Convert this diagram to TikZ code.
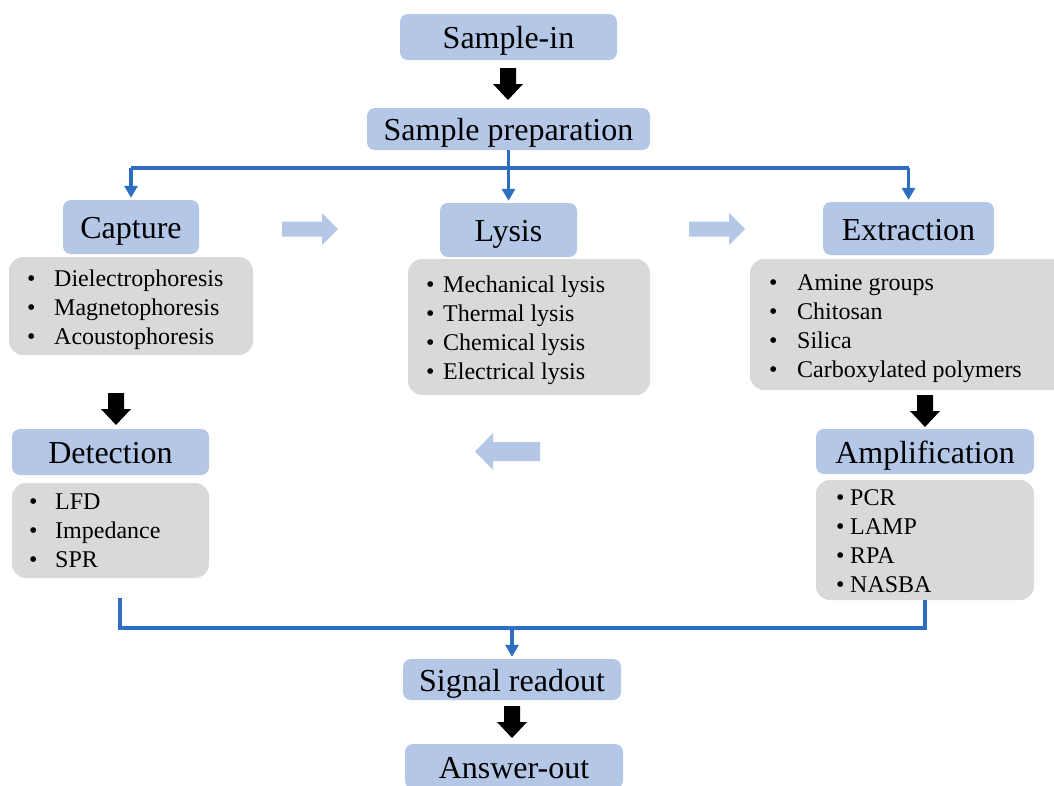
\documentclass[tikz,border=0pt]{standalone}
\usepackage{fontspec}
\setmainfont{Liberation Serif}
\usetikzlibrary{arrows.meta}
\definecolor{boxblue}{HTML}{B4C7E7}
\definecolor{boxgray}{HTML}{D9D9D9}
\definecolor{lineblue}{HTML}{2E6EC0}
\definecolor{arrlight}{HTML}{B4C7E7}
\newcommand{\bitems}[2]{\begin{tabular}[t]{@{}p{#1}@{}l@{}}#2\end{tabular}}
\begin{document}
\begin{tikzpicture}[x=1pt,y=-1pt,
 title/.style={fill=boxblue, rounded corners=8pt, inner sep=0pt, text height=23pt, text depth=0pt, font=\fontsize{32}{38}\selectfont},
 glist/.style={fill=boxgray, rounded corners=14pt, inner sep=0pt},
 ltext/.style={anchor=base west, inner sep=0pt, font=\fontsize{24}{29}\selectfont},
 bline/.style={draw=lineblue, line width=3.5pt},
 barrow/.style={bline, -{Triangle[length=12pt,width=13pt]}, shorten >=2pt},
 darr/.pic={\fill[black] (-8,0) -- (8,0) -- (8,16) -- (15,16) -- (0,32) -- (-15,16) -- (-8,16) -- cycle;},
 rarr/.pic={\fill[arrlight] (0,-7.5) -- (40,-7.5) -- (40,-16) -- (56,0) -- (40,16) -- (40,7.5) -- (0,7.5) -- cycle;},
 larr/.pic={\fill[arrlight] (0,-9.5) -- (-47,-9.5) -- (-47,-18.5) -- (-65,0) -- (-47,18.5) -- (-47,9.5) -- (0,9.5) -- cycle;},
 ]
\useasboundingbox (0,0) rectangle (1054,785);
\clip (0,0) rectangle (1054,785);

% title boxes
\node[title, minimum width=217pt, minimum height=46pt] (samplein) at (508.5,37) {Sample-in};
\node[title, minimum width=283pt, minimum height=42pt] (prep) at (508.5,129) {Sample preparation};
\node[title, minimum width=136pt, minimum height=54pt] (capture) at (131,227) {Capture};
\node[title, minimum width=137pt, minimum height=54pt] (lysis) at (508.5,230) {Lysis};
\node[title, minimum width=171pt, minimum height=53pt] (extraction) at (908.5,228.5) {Extraction};
\node[title, minimum width=197pt, minimum height=46pt] (detection) at (110.5,452) {Detection};
\node[title, minimum width=218pt, minimum height=45pt] (amplification) at (925,451.5) {Amplification};
\node[title, minimum width=218pt, minimum height=41pt] (signal) at (512,679.5) {Signal readout};
\node[title, minimum width=218pt, minimum height=45pt] (answer) at (514,766.5) {Answer-out};

% grey list boxes
\node[glist, minimum width=244pt, minimum height=98pt] (caplist) at (131,306) {};
\node[glist, minimum width=242pt, minimum height=136pt] (lyslist) at (529,327) {};
\node[glist, minimum width=320pt, minimum height=131pt] (extlist) at (910,324.5) {};
\node[glist, minimum width=197pt, minimum height=95pt] (detlist) at (110.5,530.5) {};
\node[glist, minimum width=218pt, minimum height=120pt] (amplist) at (925,540) {};

% list texts
\node[ltext] (captext) at (27,286) {\bitems{27pt}{\textbullet & Dielectrophoresis\\ \textbullet & Magnetophoresis\\ \textbullet & Acoustophoresis}};
\node[ltext] (lystext) at (426,292) {\bitems{17pt}{\textbullet & Mechanical lysis\\ \textbullet & Thermal lysis\\ \textbullet & Chemical lysis\\ \textbullet & Electrical lysis}};
\node[ltext] (exttext) at (769,290) {\bitems{28pt}{\textbullet & Amine groups\\ \textbullet & Chitosan\\ \textbullet & Silica\\ \textbullet & Carboxylated polymers}};
\node[ltext] (dettext) at (29,509) {\bitems{26pt}{\textbullet & LFD\\ \textbullet & Impedance\\ \textbullet & SPR}};
\node[ltext] (amptext) at (836,505) {\bitems{14pt}{\textbullet & PCR\\ \textbullet & LAMP\\ \textbullet & RPA\\ \textbullet & NASBA}};

% black block arrows
\pic at (508,68) {darr};
\pic at (116,393) {darr};
\pic at (925,395) {darr};
\pic at (512,706) {darr};

% light block arrows
\pic at (282,229) {rarr};
\pic at (689,229) {rarr};
\pic at (540,451.5) {larr};

% blue connectors (top)
\coordinate (ht) at (508.5,168);
\draw[bline] (capture.north |- ht) -- (extraction.north |- ht);
\draw[barrow] (prep.south) -- (lysis.north);
\draw[barrow] (capture.north |- ht) -- (capture.north);
\draw[barrow] (extraction.north |- ht) -- (extraction.north);

% blue connectors (bottom)
\coordinate (detend) at (120,598);
\coordinate (hb) at (512,628);
\draw[bline] (detend) -- (detend |- hb) -- (amplist.south |- hb) -- (amplist.south);
\draw[barrow] (signal.north |- hb) -- (signal.north);
\end{tikzpicture}
\end{document}
